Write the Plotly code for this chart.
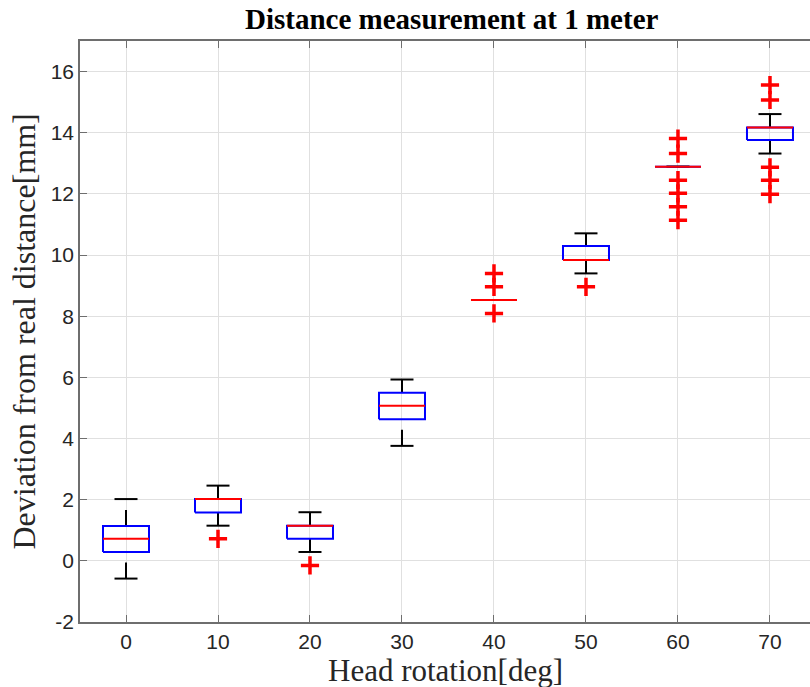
import plotly.graph_objects as go

# Head rotation angles (deg) and the box-plot statistics of the deviation (mm)
rotation = [0, 10, 20, 30, 40, 50, 60, 70]
lower_whisker = [-0.58, 1.15, 0.29, 3.76, 8.53, 9.40, 12.89, 13.32]
q1 = [0.29, 1.58, 0.72, 4.63, 8.53, 9.84, 12.89, 13.76]
median = [0.72, 2.02, 1.15, 5.07, 8.53, 9.84, 12.89, 14.17]
q3 = [1.14, 2.02, 1.15, 5.50, 8.53, 10.30, 12.89, 14.17]
upper_whisker = [2.02, 2.46, 1.59, 5.93, 8.53, 10.71, 12.89, 14.61]

# Outliers per rotation angle
outliers = {
    0: [],
    10: [0.72],
    20: [-0.15],
    30: [],
    40: [9.40, 8.96, 8.09],
    50: [8.96],
    60: [13.81, 13.32, 12.45, 12.02, 11.58, 11.14],
    70: [15.56, 15.07, 12.87, 12.45, 11.99],
}

x_ticks = [0, 10, 20, 30, 40, 50, 60, 70]
y_ticks = [-2, 0, 2, 4, 6, 8, 10, 12, 14, 16]
y_tick_labels = ["-2", "0", "2", "4", "6", "8", "10", "12", "14", "16"]

BOX_HALF = 2.5
CAP_HALF = 1.25

# Build path coordinates for each element of the boxes
wx, wy = [], []
cx, cy = [], []
bx, by = [], []
mx, my = [], []
for p, lo, a, m, b, hi in zip(rotation, lower_whisker, q1, median, q3, upper_whisker):
    # upper whisker from the box top, lower whisker from the lower end
    wx += [p, p, None, p, p, None]
    wy += [b, hi, None, lo, a, None]
    cx += [p - CAP_HALF, p + CAP_HALF, None, p - CAP_HALF, p + CAP_HALF, None]
    cy += [hi, hi, None, lo, lo, None]
    bx += [p - BOX_HALF, p + BOX_HALF, p + BOX_HALF, p - BOX_HALF, p - BOX_HALF, None]
    by += [a, a, b, b, a, None]
    mx += [p - BOX_HALF, p + BOX_HALF, None]
    my += [m, m, None]

ox, oy = [], []
for p, vals in outliers.items():
    ox += [p] * len(vals)
    oy += vals

fig = go.Figure()
fig.add_trace(go.Scatter(x=wx, y=wy, mode="lines",
                         line=dict(color="black", width=2, dash="16px,10px"),
                         hoverinfo="skip"))
fig.add_trace(go.Scatter(x=cx, y=cy, mode="lines",
                         line=dict(color="black", width=2), hoverinfo="skip"))
fig.add_trace(go.Scatter(x=bx, y=by, mode="lines",
                         line=dict(color="#0000ff", width=2), hoverinfo="skip"))
fig.add_trace(go.Scatter(x=mx, y=my, mode="lines",
                         line=dict(color="#ff0000", width=2), hoverinfo="skip"))
fig.add_trace(go.Scatter(x=ox, y=oy, mode="markers",
                         marker=dict(symbol="cross-thin", size=13,
                                     line=dict(color="#ff0000", width=3.5)),
                         hoverinfo="skip"))

axis_font = dict(family="Liberation Sans, Arial, sans-serif", size=21, color="#262626")
line_col = "#6e6e6e"

fig.update_xaxes(
    range=[-5, 74.35], tickvals=x_ticks, ticks="inside", ticklen=7,
    tickcolor=line_col, tickwidth=1, showline=True, linecolor=line_col,
    linewidth=1.5, mirror="ticks", showgrid=True, gridcolor="#e0e0e0",
    gridwidth=1, zeroline=False, tickfont=axis_font,
)
fig.update_yaxes(
    range=[-2, 17], tickvals=y_ticks, ticktext=y_tick_labels, ticks="inside",
    ticklen=7, tickcolor=line_col, tickwidth=1, showline=True,
    linecolor=line_col, linewidth=1.5, mirror=False, showgrid=True,
    gridcolor="#e0e0e0", gridwidth=1, zeroline=False, tickfont=axis_font,
)

serif = "Liberation Serif, Times New Roman, serif"
fig.update_layout(
    width=810, height=687,
    margin=dict(l=80, r=0, t=41, b=65),
    paper_bgcolor="white", plot_bgcolor="white",
    showlegend=False,
    annotations=[
        dict(text="<b>Distance measurement at 1 meter</b>", xref="paper", yref="paper",
             x=0.509, y=1, yshift=22, xanchor="center", yanchor="middle",
             showarrow=False, font=dict(family=serif, size=29, color="black")),
        dict(text="Head rotation[deg]", xref="paper", yref="paper",
             x=0.5, y=0, yshift=-48, xanchor="center", yanchor="middle",
             showarrow=False, font=dict(family=serif, size=31, color="#262626")),
        dict(text="Deviation from real distance[mm]", xref="paper", yref="paper",
             x=0, y=0.5, xshift=-57, xanchor="center", yanchor="middle",
             textangle=-90, showarrow=False,
             font=dict(family=serif, size=32, color="#262626")),
    ],
)

fig.write_html("out.html")
